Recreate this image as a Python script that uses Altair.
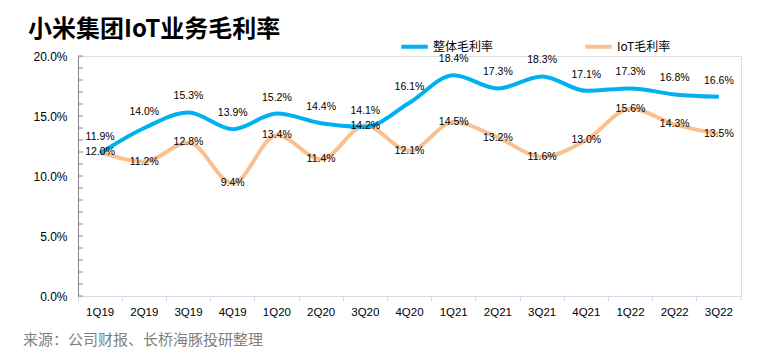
import altair as alt
import pandas as pd

# ---- data ----
quarters = ["1Q19", "2Q19", "3Q19", "4Q19", "1Q20", "2Q20", "3Q20", "4Q20",
            "1Q21", "2Q21", "3Q21", "4Q21", "1Q22", "2Q22", "3Q22"]
overall = [11.9, 14.0, 15.3, 13.9, 15.2, 14.4, 14.1, 16.1,
           18.4, 17.3, 18.3, 17.1, 17.3, 16.8, 16.6]
iot = [12.0, 11.2, 12.8, 9.4, 13.4, 11.4, 14.2, 12.1,
       14.5, 13.2, 11.6, 13.0, 15.6, 14.3, 13.5]
series_names = ["整体毛利率", "IoT毛利率"]
series_colors = ["#00B0F0", "#FAC090"]
y_major = [0, 5, 10, 15, 20]
y_minor = list(range(0, 21))
title_text = "小米集团IoT业务毛利率"
source_text = "来源：公司财报、长桥海豚投研整理"

# ---- tables ----
df = pd.DataFrame({
    "q": quarters * 2,
    "v": iot + overall,
    "s": [series_names[1]] * len(quarters) + [series_names[0]] * len(quarters),
})
df["label"] = df["v"].map(lambda v: f"{v:.1f}%")

W, H = 663, 240
NUM_FONT = "Liberation Sans"
CJK_FONT = "Noto Sans CJK SC"

x_enc = alt.X(
    "q:N", sort=quarters,
    scale=alt.Scale(type="band", paddingInner=0, paddingOuter=0),
    axis=alt.Axis(title=None, labelAngle=0, bandPosition=0, grid=False,
                  domainColor="#CFDCEC", tickColor="#CFDCEC", tickSize=5,
                  labelPadding=5, labelFont=NUM_FONT, labelFontSize=11.5,
                  labelColor="#000000"),
)
y_scale = alt.Scale(domain=[0, 20], nice=False, zero=True)
y_enc = alt.Y(
    "v:Q", scale=y_scale,
    axis=alt.Axis(title=None, values=y_major, ticks=False, grid=False,
                  domainColor="#868686", labelPadding=11,
                  labelExpr="format(datum.value, '.1f') + '%'",
                  labelFont=NUM_FONT, labelFontSize=12, labelColor="#000000"),
)

lines = alt.Chart(df).mark_line(strokeWidth=4, interpolate="monotone").encode(
    x=x_enc, y=y_enc,
    color=alt.Color(
        "s:N",
        scale=alt.Scale(domain=series_names, range=series_colors),
        legend=alt.Legend(
            title=None, orient="none", legendX=321, legendY=-25,
            direction="horizontal", symbolType="stroke", symbolStrokeWidth=4,
            symbolSize=700, labelFont=CJK_FONT, labelFontSize=12,
            labelColor="#000000", columnPadding=83, labelOffset=3,
        ),
    ),
    detail="s:N",
)

blue_labels = alt.Chart(df).transform_filter(
    alt.datum.s == series_names[0]
).mark_text(dy=-16, font=NUM_FONT, fontSize=10.5, color="#000000").encode(
    x=alt.X("q:N", sort=quarters), y=alt.Y("v:Q"), text="label:N"
)
orange_labels = alt.Chart(df).transform_filter(
    alt.datum.s == series_names[1]
).mark_text(dy=0, font=NUM_FONT, fontSize=10.5, color="#000000").encode(
    x=alt.X("q:N", sort=quarters), y=alt.Y("v:Q"), text="label:N"
)

minor_ticks = alt.Chart(pd.DataFrame({"v": y_minor})).mark_rule(
    color="#868686", strokeWidth=1
).encode(y=alt.Y("v:Q"), x=alt.value(0), x2=alt.value(5))

end_tick = alt.Chart(pd.DataFrame({"a": [0]})).mark_rule(
    color="#CFDCEC"
).encode(x=alt.value(W), y=alt.value(H), y2=alt.value(H + 5))

title = alt.Chart(pd.DataFrame({"t": [title_text]})).mark_text(
    align="left", baseline="alphabetic", font=CJK_FONT, fontSize=24,
    fontWeight="bold", color="#000000"
).encode(text="t:N", x=alt.value(-50), y=alt.value(-19))

source = alt.Chart(pd.DataFrame({"t": [source_text]})).mark_text(
    align="left", baseline="middle", font=CJK_FONT, fontSize=15, color="#7F7F7F"
).encode(text="t:N", x=alt.value(-55), y=alt.value(284))

chart = alt.layer(
    minor_ticks, end_tick, lines, blue_labels, orange_labels, title, source
).properties(
    width=W, height=H,
    autosize=alt.AutoSizeParams(type="none"),
    padding={"left": 70, "top": 48, "right": 20, "bottom": 52},
).configure_view(stroke=None).configure(background="#FFFFFF")

chart.save("out.html", embed_options={"renderer": "svg", "actions": False})
